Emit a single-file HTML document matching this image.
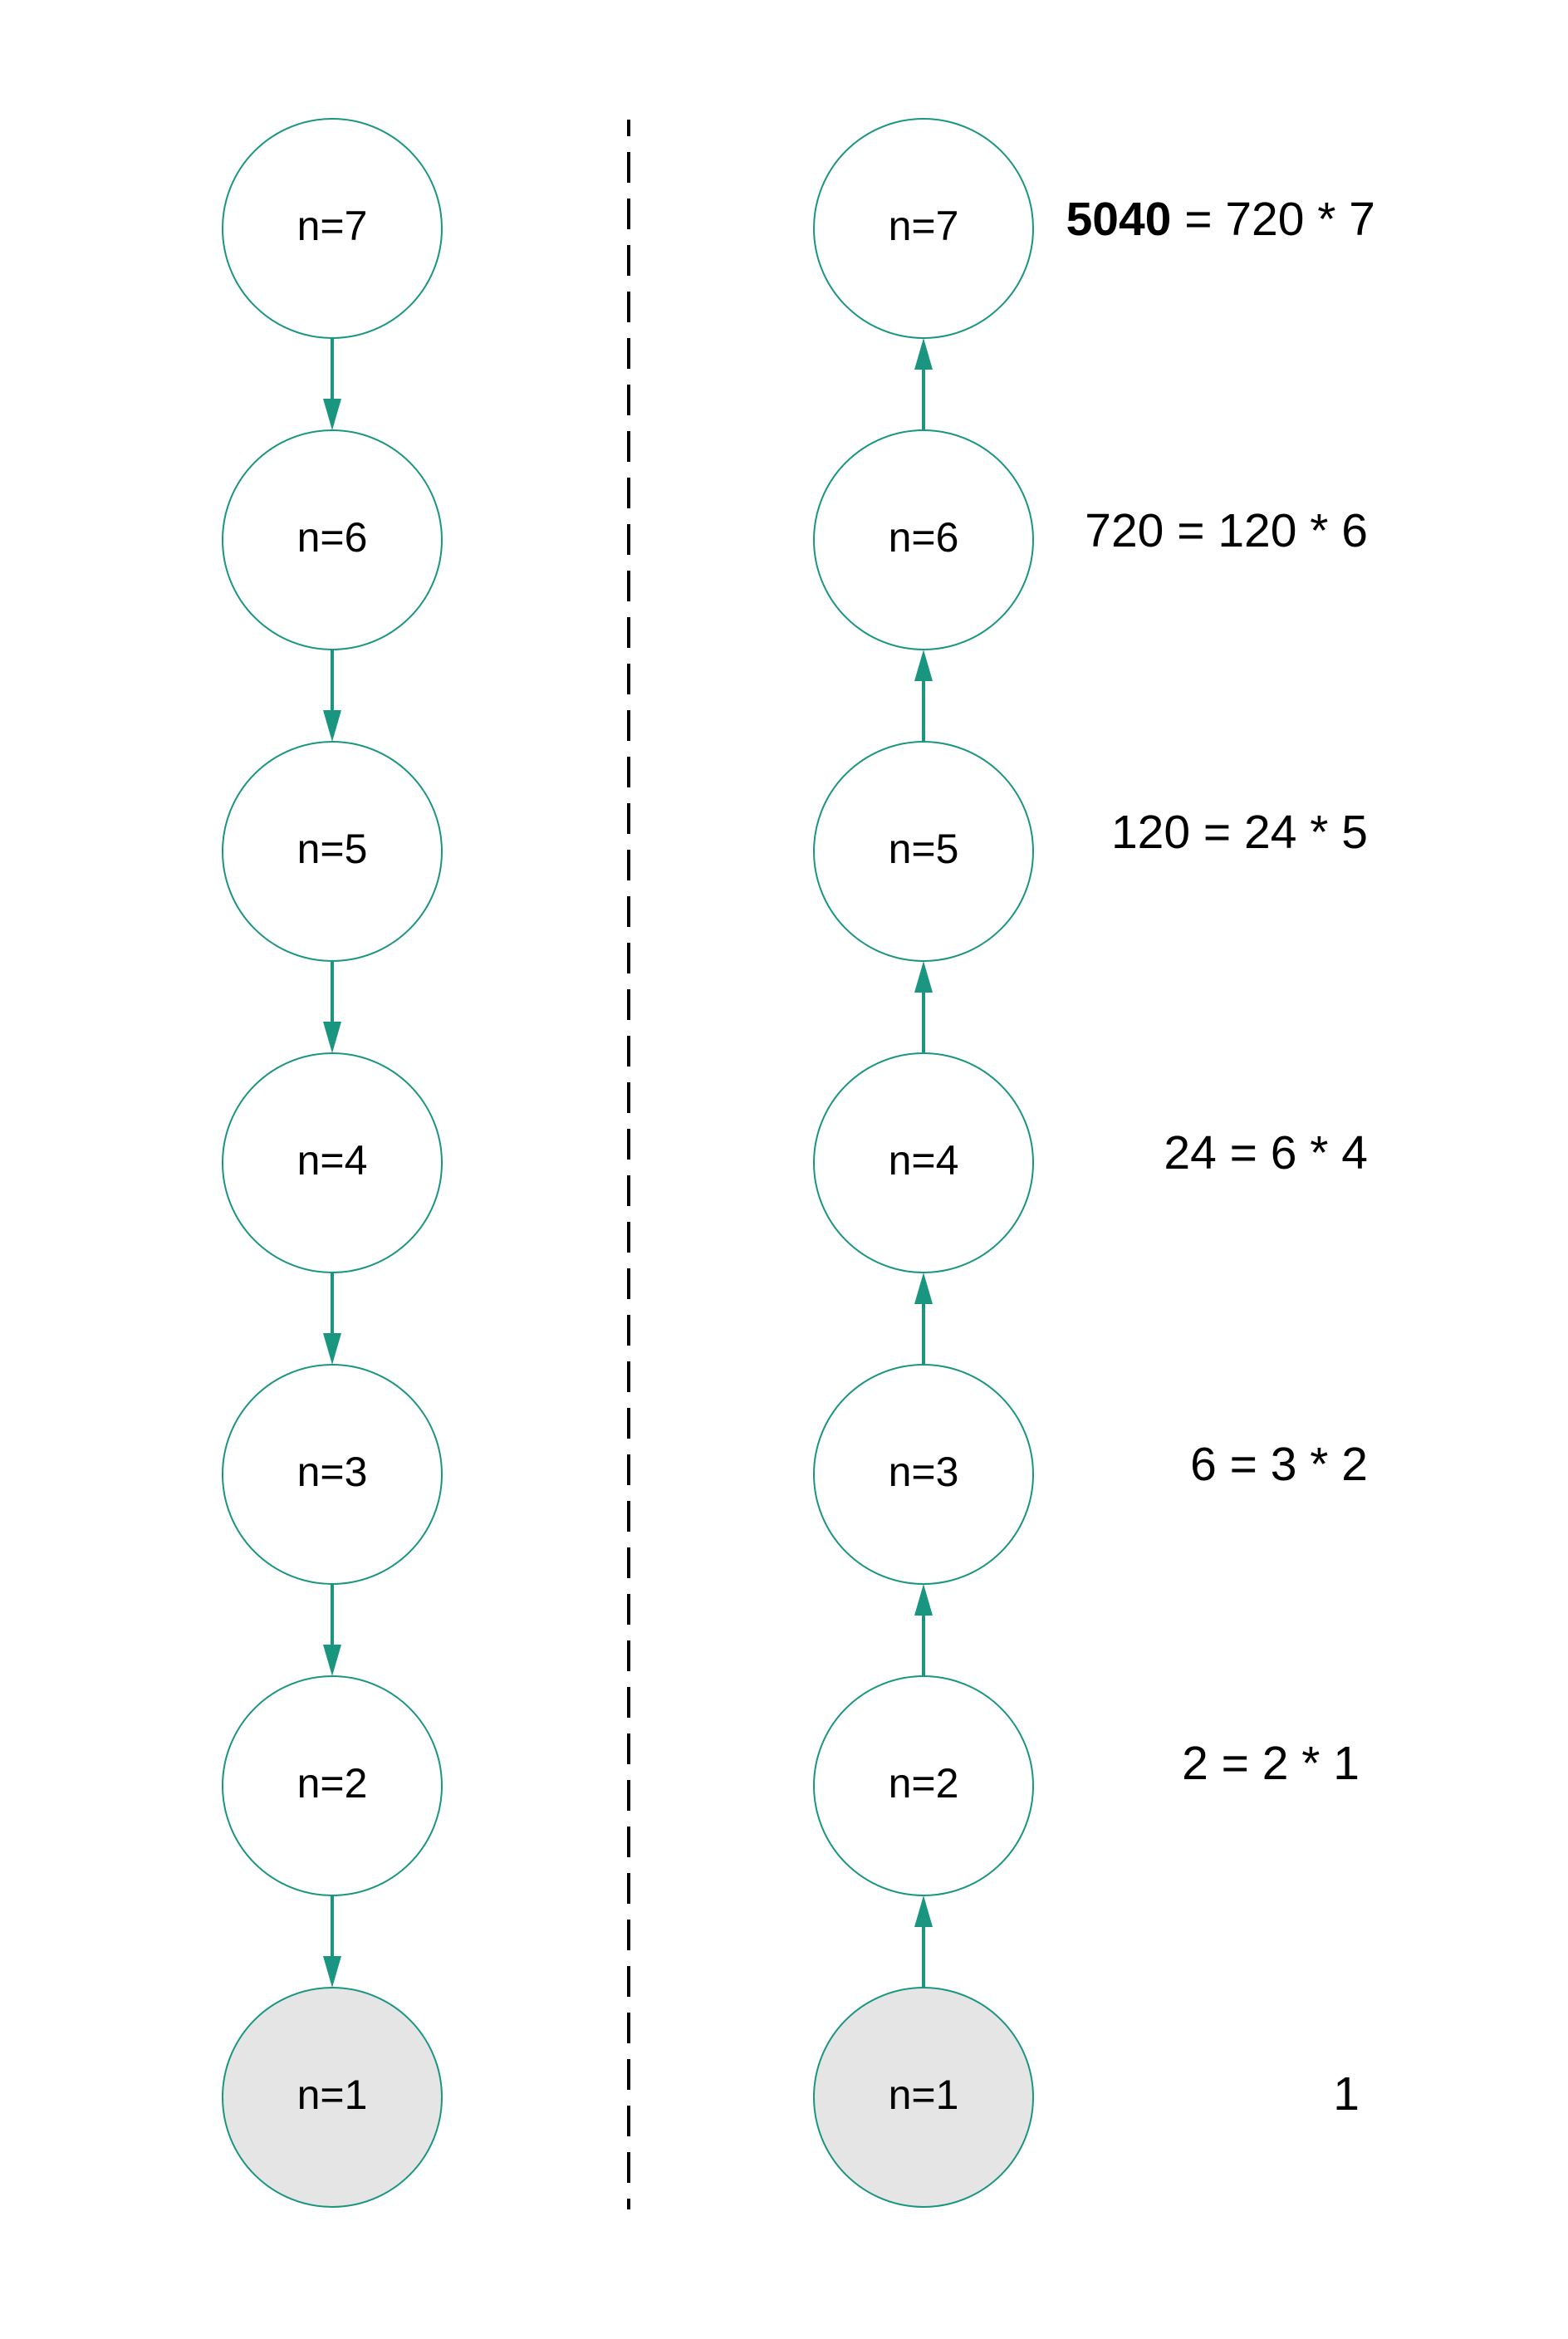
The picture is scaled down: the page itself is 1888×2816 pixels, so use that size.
<!DOCTYPE html>
<html><head><meta charset="utf-8"><style>
html,body{margin:0;padding:0;background:#fff}
svg{display:block}
text{font-family:"Liberation Sans",sans-serif;fill:#000}
</style></head><body>
<svg id="chart" width="1888" height="2816" viewBox="0 0 1888 2816" xmlns="http://www.w3.org/2000/svg">
<line x1="757" y1="144" x2="757" y2="2660" stroke="#000" stroke-width="4" stroke-dasharray="37 19" stroke-dashoffset="17"/>
<g id="left"></g><g id="right"></g><g id="labels"></g>
</svg>
<script>
const nValues = [7, 6, 5, 4, 3, 2, 1];
const resultBold = ["5040", "", "", "", "", "", ""];
const resultLabels = [" = 720 * 7", "720 = 120 * 6", "120 = 24 * 5", "24 = 6 * 4", "6 = 3 * 2", "2 = 2 * 1", "1"];
const baseCaseN = [1];

const NS = "http://www.w3.org/2000/svg";
const COLOR = "#1a9680";
const R = 132, TOP = 275, STEP = 375;
const LX = 400, RX = 1112;
const rowY = i => TOP + i * STEP;
const labelRight = [1656, 1647, 1647, 1647, 1647, 1637, 1637];
const labelBaseOff = [8, 8, -4, 7, 7, -8, 15];

function mk(tag, attrs, parent) {
  const e = document.createElementNS(NS, tag);
  for (const k in attrs) e.setAttribute(k, attrs[k]);
  parent.appendChild(e);
  return e;
}

function drawColumn(cx, g, side) {
  nValues.forEach((n, i) => {
    const cy = rowY(i);
    const c = mk("circle", {cx: cx, cy: cy, r: R, fill: baseCaseN.includes(n) ? "#e5e5e5" : "#fff", stroke: COLOR, "stroke-width": 2}, g);
    
    
    const t = mk("text", {x: cx, y: cy + 14, "text-anchor": "middle", "font-size": 50}, g);
    t.textContent = "n=" + n;
    
    
    if (i < nValues.length - 1) {
      const y1 = cy + R, y2 = rowY(i + 1) - R;
      const a = mk("g", {}, g);
      
      
      if (side === "left") {
        mk("line", {x1: cx, y1: y1, x2: cx, y2: y2 - 36, stroke: COLOR, "stroke-width": 4}, a);
        mk("polygon", {points: (cx - 11) + "," + (y2 - 38) + " " + (cx + 11) + "," + (y2 - 38) + " " + cx + "," + y2, fill: COLOR}, a);
      } else {
        mk("line", {x1: cx, y1: y1 + 36, x2: cx, y2: y2, stroke: COLOR, "stroke-width": 4}, a);
        mk("polygon", {points: (cx - 11) + "," + (y1 + 38) + " " + (cx + 11) + "," + (y1 + 38) + " " + cx + "," + y1, fill: COLOR}, a);
      }
    }
  });
}
drawColumn(LX, document.getElementById("left"), "left");
drawColumn(RX, document.getElementById("right"), "right");

const lg = document.getElementById("labels");
resultLabels.forEach((s, i) => {
  const t = mk("text", {x: labelRight[i], y: rowY(i) + labelBaseOff[i], "text-anchor": "end", "font-size": 57}, lg);
  
  
  if (resultBold[i]) {
    const b = mk("tspan", {"font-weight": "bold"}, t);
    b.textContent = resultBold[i];
  }
  const r = mk("tspan", {}, t);
  r.textContent = s;
});
</script>
</body></html>
